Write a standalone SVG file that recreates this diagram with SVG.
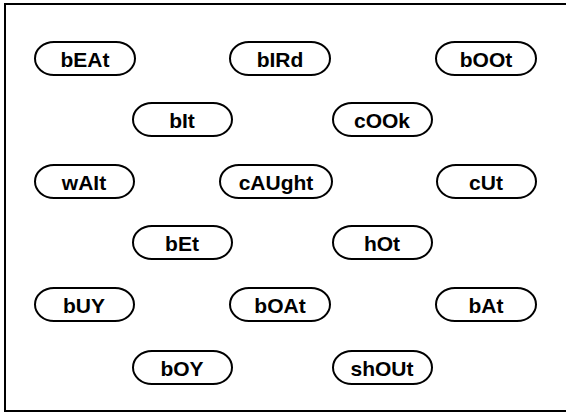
<svg xmlns="http://www.w3.org/2000/svg" width="566" height="414" viewBox="0 0 566 414">
<style>
.p{fill:#fff;stroke:#000;stroke-width:2}
.t{font-family:"Liberation Sans",Arial,sans-serif;font-weight:bold;font-size:21px;text-anchor:middle;fill:#000}
</style>
<rect x="0" y="0" width="566" height="414" fill="#fff"/>
<path d="M575,4 H5 V411 H575" fill="none" stroke="#000" stroke-width="2"/>
<g id="bEAt"><rect class="p" x="35" y="42" width="100" height="33" rx="19" ry="16.5"/><text class="t" x="85" y="66.5">bEAt</text></g>
<g id="bIRd"><rect class="p" x="230" y="42" width="100" height="33" rx="19" ry="16.5"/><text class="t" x="280" y="66.5">bIRd</text></g>
<g id="bOOt"><rect class="p" x="436" y="42" width="100" height="33" rx="19" ry="16.5"/><text class="t" x="486" y="66.5">bOOt</text></g>
<g id="bIt"><rect class="p" x="133" y="103" width="99" height="33" rx="19" ry="16.5"/><text class="t" x="182" y="127.5">bIt</text></g>
<g id="cOOk"><rect class="p" x="333" y="103" width="99" height="33" rx="19" ry="16.5"/><text class="t" x="382" y="127.5">cOOk</text></g>
<g id="wAIt"><rect class="p" x="35" y="165" width="99" height="33" rx="19" ry="16.5"/><text class="t" x="84" y="189.5">wAIt</text></g>
<g id="cAUght"><rect class="p" x="220" y="165" width="112" height="33" rx="19" ry="16.5"/><text class="t" x="276" y="189.5">cAUght</text></g>
<g id="cUt"><rect class="p" x="437" y="165" width="99" height="33" rx="19" ry="16.5"/><text class="t" x="486" y="189.5">cUt</text></g>
<g id="bEt"><rect class="p" x="133" y="226" width="99" height="33" rx="19" ry="16.5"/><text class="t" x="182" y="250.5">bEt</text></g>
<g id="hOt"><rect class="p" x="333" y="226" width="99" height="33" rx="19" ry="16.5"/><text class="t" x="382" y="250.5">hOt</text></g>
<g id="bUY"><rect class="p" x="35" y="288" width="99" height="33" rx="19" ry="16.5"/><text class="t" x="84" y="312.5">bUY</text></g>
<g id="bOAt"><rect class="p" x="230" y="288" width="100" height="33" rx="19" ry="16.5"/><text class="t" x="280" y="312.5">bOAt</text></g>
<g id="bAt"><rect class="p" x="436" y="288" width="100" height="33" rx="19" ry="16.5"/><text class="t" x="486" y="312.5">bAt</text></g>
<g id="bOY"><rect class="p" x="133" y="351" width="99" height="33" rx="19" ry="16.5"/><text class="t" x="182" y="375.5">bOY</text></g>
<g id="shOUt"><rect class="p" x="333" y="351" width="99" height="33" rx="19" ry="16.5"/><text class="t" x="382" y="375.5">shOUt</text></g>
<g id="connectors"></g>
</svg>
